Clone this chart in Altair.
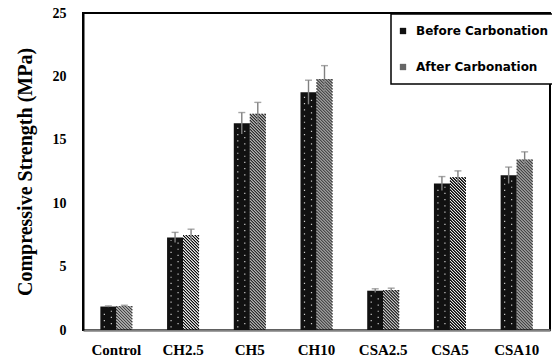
import altair as alt
import pandas as pd

categories = ["Control", "CH2.5", "CH5", "CH10", "CSA2.5", "CSA5", "CSA10"]
series = ["Before Carbonation", "After Carbonation"]
before = [1.85, 7.3, 16.3, 18.75, 3.1, 11.55, 12.2]
after = [1.9, 7.5, 17.05, 19.8, 3.15, 12.05, 13.45]
before_err = [0.05, 0.4, 0.85, 0.95, 0.15, 0.55, 0.65]
after_err = [0.05, 0.45, 0.9, 1.05, 0.15, 0.5, 0.6]
y_ticks = [0, 5, 10, 15, 20, 25]

W, H = 467, 317
YMAX = 25
BAR_W = 16
HATCH_P = 3.0

rows = []
for c, b, a, be, ae in zip(categories, before, after, before_err, after_err):
    rows.append(dict(cat=c, series=series[0], value=b, lo=b - be, hi=b + be))
    rows.append(dict(cat=c, series=series[1], value=a, lo=a - ae, hi=a + ae))
df = pd.DataFrame(rows)

X = alt.X(
    "cat:N",
    sort=categories,
    scale=alt.Scale(paddingInner=0, paddingOuter=0),
    axis=alt.Axis(
        title=None,
        labelAngle=0,
        ticks=False,
        domainColor="#808080",
        domainWidth=2.5,
        labelFont="Liberation Serif",
        labelFontWeight="bold",
        labelFontSize=15,
        labelColor="black",
        labelPadding=12,
    ),
)
Y = alt.Y(
    "value:Q",
    scale=alt.Scale(domain=[0, YMAX], nice=False),
    axis=alt.Axis(
        title="Compressive Strength (MPa)",
        values=y_ticks,
        ticks=False,
        grid=False,
        domainColor="black",
        domainWidth=2,
        labelFont="Liberation Serif",
        labelFontWeight="bold",
        labelFontSize=14,
        labelColor="black",
        labelPadding=17,
        titleFont="Liberation Serif",
        titleFontWeight="bold",
        titleFontSize=20,
        titleColor="black",
        titlePadding=17,
    ),
)

base = alt.Chart(df)

before_bars = base.transform_filter(alt.datum.series == series[0]).mark_bar(
    width=BAR_W, xOffset=-BAR_W / 2
).encode(
    x=X,
    y=Y,
    color=alt.Color(
        "series:N",
        scale=alt.Scale(domain=series, range=["#111111", "#666666"]),
        legend=alt.Legend(
            title=None,
            orient="none",
            legendX=308,
            legendY=1,
            fillColor="white",
            strokeColor="black",
            padding=11,
            rowPadding=24,
            symbolType="square",
            symbolSize=40,
            symbolStrokeWidth=0,
            symbolOffset=-5,
            labelFont="DejaVu Sans",
            labelFontWeight="bold",
            labelFontSize=12,
            labelColor="black",
            labelOffset=7,
        ),
    ),
)

# white dot texture inside the "before" bars
dots = []
for off, dash_off in [(-12, 0), (-5, 3)]:
    dots.append(
        base.transform_filter(alt.datum.series == series[0])
        .transform_calculate(d0="0.2", d1="datum.value - 0.2")
        .mark_rule(color="#cccccc", strokeWidth=1.2, strokeDash=[1.2, 5], strokeDashOffset=dash_off, xOffset=off)
        .encode(x=X, y=alt.Y("d0:Q"), y2="d1:Q")
    )

# diagonal hatch for the "after" bars: 1-px columns with staggered dash phase
hatch_cols = []
for k in range(BAR_W):
    phase = (HATCH_P * 100 - k) % HATCH_P
    hatch_cols.append(
        base.transform_filter(alt.datum.series == series[1])
        .transform_calculate(zero="0")
        .mark_rule(
            color="#000000",
            strokeWidth=1.05,
            strokeDash=[1.7, HATCH_P - 1.7],
            strokeDashOffset=phase,
            xOffset=k + 0.5,
        )
        .encode(x=X, y=alt.Y("value:Q"), y2="zero:Q")
    )

err_layers = []
for s, off in [(series[0], -BAR_W / 2), (series[1], BAR_W / 2)]:
    sub = base.transform_filter(alt.datum.series == s)
    err_layers.append(
        sub.mark_rule(color="#808080", strokeWidth=1.4, xOffset=off).encode(
            x=X, y=alt.Y("lo:Q"), y2="hi:Q"
        )
    )
    err_layers.append(
        sub.mark_tick(color="#808080", thickness=1.4, size=7, xOffset=off).encode(
            x=X, y=alt.Y("hi:Q")
        )
    )

chart = alt.layer(before_bars, *dots, *hatch_cols, *err_layers).properties(
    width=W,
    height=H,
    autosize=alt.AutoSizeParams(type="none"),
    padding={"left": 83, "top": 13, "right": 2, "bottom": 32},
).configure_view(stroke="black", strokeWidth=2).configure_legend(strokeWidth=1.5)

chart.save("out.html", embed_options={"renderer": "svg", "actions": False})
